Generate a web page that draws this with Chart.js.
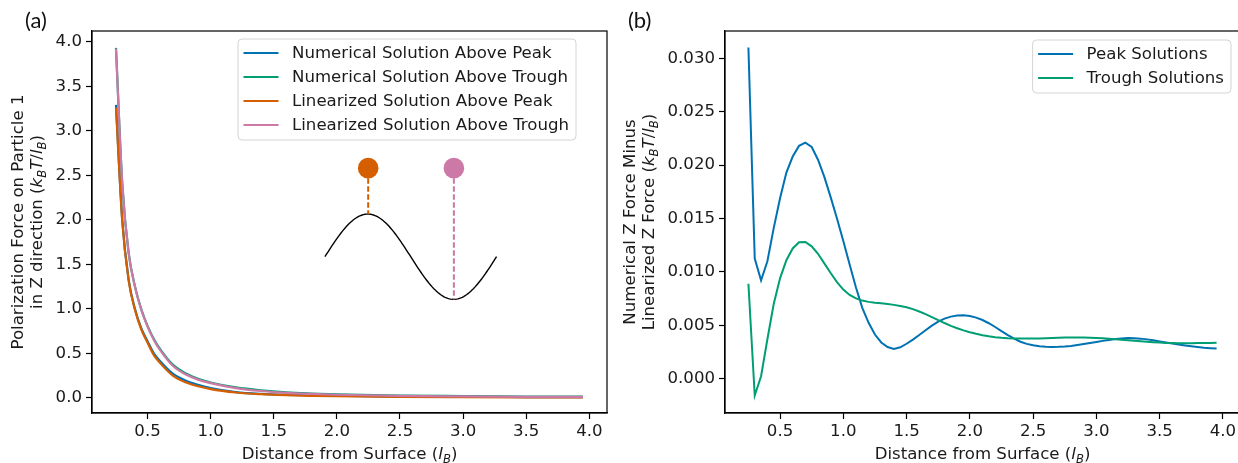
<!DOCTYPE html>
<html>
<head>
<meta charset="utf-8">
<script src="https://cdn.jsdelivr.net/npm/chart.js@4"></script>
<style>
  body { margin: 0; background: #fff; }
  #wrap { position: relative; width: 1238px; height: 463px; overflow: hidden; }
  .panel { position: absolute; top: 0; height: 463px; width: 620px; }
  .tag { position: absolute; font-family: Lato, "Noto Sans", sans-serif; font-size: 22px; color: #111; }
</style>
</head>
<body>
<div id="wrap">
  <div class="panel" style="left:0"><canvas id="chartA"></canvas></div>
  <div class="panel" style="left:620px"><canvas id="chartB"></canvas></div>
  <div class="tag" style="left:25px;top:6px">(a)</div>
  <div class="tag" style="left:628px;top:6px">(b)</div>
</div>
<script>
// colours (Okabe-Ito)
const BLUE = "#0072B2", GREEN = "#009E73", ORANGE = "#D55E00", PINK = "#CC79A7";

// panel (a): force vs distance
const xA = [0.25, 0.30, 0.35, 0.40, 0.45, 0.50, 0.55, 0.60, 0.70, 0.80, 0.90, 1.00, 1.20, 1.40, 1.60, 1.80, 2.00, 2.50, 3.00, 3.50, 3.95];
const peakNum   = [3.29, 1.99, 1.33, 1.00, 0.784, 0.637, 0.499, 0.411, 0.272, 0.196, 0.147, 0.111, 0.065, 0.044, 0.034, 0.029, 0.024, 0.014, 0.0115, 0.0094, 0.0078];
const troughNum = [3.93, 2.40, 1.63, 1.254, 0.997, 0.809, 0.661, 0.547, 0.373, 0.277, 0.215, 0.173, 0.117, 0.084, 0.062, 0.049, 0.039, 0.026, 0.020, 0.015, 0.013];
const peakLin   = [3.26, 1.98, 1.32, 0.99, 0.77, 0.62, 0.48, 0.39, 0.25, 0.175, 0.13, 0.098, 0.060, 0.041, 0.030, 0.023, 0.018, 0.011, 0.008, 0.006, 0.005];
const troughLin = [3.92, 2.40, 1.63, 1.25, 0.99, 0.80, 0.65, 0.535, 0.36, 0.265, 0.205, 0.165, 0.11, 0.077, 0.056, 0.044, 0.035, 0.022, 0.016, 0.012, 0.010];

// panel (b): numerical minus linearized
const xB = [0.25, 0.30, 0.35, 0.40, 0.45, 0.50, 0.55, 0.60, 0.65, 0.70, 0.75, 0.80, 0.85, 0.90, 0.95,
            1.00, 1.05, 1.10, 1.15, 1.20, 1.25, 1.30, 1.35, 1.40, 1.45, 1.50, 1.55, 1.60, 1.65, 1.70,
            1.75, 1.80, 1.85, 1.90, 1.95, 2.00, 2.05, 2.10, 2.15, 2.20, 2.25, 2.30, 2.35, 2.40, 2.45,
            2.50, 2.55, 2.60, 2.65, 2.70, 2.75, 2.80, 2.85, 2.90, 2.95, 3.00, 3.05, 3.10, 3.15, 3.20,
            3.25, 3.30, 3.35, 3.40, 3.45, 3.50, 3.55, 3.60, 3.65, 3.70, 3.75, 3.80, 3.85, 3.90, 3.95];
const peakDiff = [0.03100, 0.01125, 0.00922, 0.01100, 0.01410, 0.01690, 0.01930, 0.02080, 0.02180, 0.02210, 0.02170, 0.02050, 0.01890, 0.01700, 0.01500,
                  0.01290, 0.01070, 0.00855, 0.00664, 0.00524, 0.00414, 0.00340, 0.00297, 0.00280, 0.00295, 0.00328, 0.00367, 0.00410, 0.00455, 0.00498,
                  0.00535, 0.00563, 0.00582, 0.00592, 0.00594, 0.00588, 0.00573, 0.00550, 0.00520, 0.00485, 0.00447, 0.00409, 0.00375, 0.00347, 0.00327,
                  0.00314, 0.00305, 0.00300, 0.00298, 0.00299, 0.00302, 0.00308, 0.00316, 0.00325, 0.00335, 0.00345, 0.00355, 0.00364, 0.00372, 0.00378,
                  0.00381, 0.00380, 0.00376, 0.00369, 0.00360, 0.00350, 0.00340, 0.00330, 0.00321, 0.00312, 0.00304, 0.00297, 0.00291, 0.00287, 0.00284];
const troughDiff = [0.00890, -0.00156, 0.00024, 0.00370, 0.00700, 0.00940, 0.01110, 0.01220, 0.01278, 0.01280, 0.01240, 0.01170, 0.01080, 0.00990, 0.00905,
                    0.00835, 0.00785, 0.00752, 0.00732, 0.00720, 0.00712, 0.00706, 0.00700, 0.00692, 0.00682, 0.00670, 0.00652, 0.00630, 0.00605, 0.00578,
                    0.00550, 0.00522, 0.00496, 0.00473, 0.00453, 0.00436, 0.00421, 0.00408, 0.00398, 0.00390, 0.00384, 0.00380, 0.00378, 0.00377, 0.00377,
                    0.00377, 0.00378, 0.00380, 0.00382, 0.00384, 0.00386, 0.00387, 0.00387, 0.00386, 0.00385, 0.00383, 0.00380, 0.00376, 0.00371, 0.00366,
                    0.00361, 0.00356, 0.00351, 0.00346, 0.00342, 0.00339, 0.00336, 0.00334, 0.00333, 0.00333, 0.00333, 0.00334, 0.00335, 0.00336, 0.00337];

// ticks
const xTicks = [0.5, 1.0, 1.5, 2.0, 2.5, 3.0, 3.5, 4.0];
const yTicksA = [0.0, 0.5, 1.0, 1.5, 2.0, 2.5, 3.0, 3.5, 4.0];
const yTicksB = [0.000, 0.005, 0.010, 0.015, 0.020, 0.025, 0.030];

// inset sketch (in panel a data units)
const waveX = [1.905, 3.265];
const waveY = [1.106, 2.064];
const ballX = [2.248, 2.927];
const ballY = 2.58;

const FONT = '"DejaVu Sans"';
const FS = 16.6;
Chart.defaults.font.family = FONT;
Chart.defaults.font.size = FS;
Chart.defaults.color = "#1a1a1a";

function pairs(xs, ys) {
	return xs.map((x, i) => ({ x: x, y: ys[i] }));
}

// text with italic / subscript parts, e.g. [["("], ["k","is"]]
function drawRich(ctx, parts, cx, cy, rot) {
	ctx.save();
	ctx.translate(cx, cy);
	ctx.rotate(rot);
	ctx.fillStyle = "#1a1a1a";
	ctx.textBaseline = "alphabetic";
	const fontFor = (st) => (st && st.includes("i") ? "italic " : "") + (st && st.includes("s") ? FS * 0.7 : FS) + "px " + FONT;
	let w = 0;
	parts.forEach((p) => { ctx.font = fontFor(p[1]); w += ctx.measureText(p[0]).width; });
	let x = -w / 2;
	parts.forEach((p) => {
		ctx.font = fontFor(p[1]);
		const dy = p[1] && p[1].includes("s") ? FS * 0.22 : 0;
		ctx.fillText(p[0], x, FS * 0.36 + dy);
		x += ctx.measureText(p[0]).width;
	});
	ctx.restore();
}

const unitParts = [["("], ["k", "i"], ["B", "is"], ["T", "i"], ["/"], ["l", "i"], ["B", "is"], [")"]];
const xTitle = [["Distance from Surface ("], ["l", "i"], ["B", "is"], [")"]];

// frame, axis titles, legend box
const decor = {
	id: "decor",
	afterDraw(chart, args, opts) {
		const ctx = chart.ctx;
		const a = chart.chartArea;
		ctx.save();
		ctx.strokeStyle = "#000";
		ctx.lineWidth = 1.2;
		ctx.strokeRect(a.left, a.top, a.right - a.left, a.bottom - a.top);
		ctx.restore();

		drawRich(ctx, xTitle, (a.left + a.right) / 2, 453, 0);
		const cy = (a.top + a.bottom) / 2;
		drawRich(ctx, opts.yTitle1, opts.yX[0], cy, -Math.PI / 2);
		drawRich(ctx, opts.yTitle2.concat(unitParts), opts.yX[1], cy, -Math.PI / 2);

		// legend
		const ds = chart.data.datasets;
		ctx.save();
		ctx.font = FS + "px " + FONT;
		let tw = 0;
		ds.forEach((d) => { tw = Math.max(tw, ctx.measureText(d.label).width); });
		const w = tw + 54 + 7;
		const h = ds.length * 24 + 5;
		const left = opts.legendRight - w;
		const top = opts.legendTop;
		ctx.beginPath();
		ctx.roundRect(left, top, w, h, 4);
		ctx.fillStyle = "rgba(255,255,255,0.8)";
		ctx.fill();
		ctx.strokeStyle = "#d4d4d4";
		ctx.lineWidth = 1;
		ctx.stroke();
		ds.forEach((d, i) => {
			const ry = top + 14 + i * 24;
			ctx.beginPath();
			ctx.moveTo(left + 5.5, ry);
			ctx.lineTo(left + 40.5, ry);
			ctx.strokeStyle = d.borderColor;
			ctx.lineWidth = 2.2;
			ctx.stroke();
			ctx.fillStyle = "#1a1a1a";
			ctx.textBaseline = "middle";
			ctx.fillText(d.label, left + 54, ry + 1);
		});
		ctx.restore();
	}
};

// sine surface with two particles
const inset = {
	id: "inset",
	afterDatasetsDraw(chart) {
		const ctx = chart.ctx;
		const x = chart.scales.x, y = chart.scales.y;
		const x0 = x.getPixelForValue(waveX[0]), x1 = x.getPixelForValue(waveX[1]);
		const yTop = y.getPixelForValue(waveY[1]), yBot = y.getPixelForValue(waveY[0]);
		const mid = (yTop + yBot) / 2, amp = (yBot - yTop) / 2;
		ctx.save();
		ctx.beginPath();
		for (let i = 0; i <= 120; i++) {
			const t = i / 120;
			const px = x0 + t * (x1 - x0);
			const py = mid - amp * Math.sin(2 * Math.PI * t);
			if (i === 0) ctx.moveTo(px, py); else ctx.lineTo(px, py);
		}
		ctx.strokeStyle = "#000";
		ctx.lineWidth = 1.4;
		ctx.stroke();

		const by = y.getPixelForValue(ballY);
		[[ballX[0], yTop, ORANGE], [ballX[1], yBot, PINK]].forEach((b) => {
			const bx = x.getPixelForValue(b[0]);
			ctx.beginPath();
			ctx.setLineDash([5.5, 2.5]);
			ctx.moveTo(bx, by + 10);
			ctx.lineTo(bx, b[1]);
			ctx.strokeStyle = b[2];
			ctx.lineWidth = 2;
			ctx.stroke();
			ctx.setLineDash([]);
			ctx.beginPath();
			ctx.arc(bx, by, 10.3, 0, Math.PI * 2);
			ctx.fillStyle = b[2];
			ctx.fill();
		});
		ctx.restore();
	}
};

function makeScales(xMin, xMax, yMin, yMax, yTicks, digits, yWidth) {
	const grid = { display: true, drawOnChartArea: false, drawTicks: true, tickLength: 6, color: "#000", tickWidth: 1.2 };
	return {
		x: {
			type: "linear", min: xMin, max: xMax,
			afterBuildTicks: (s) => { s.ticks = xTicks.map((v) => ({ value: v })); },
			afterFit: (s) => { s.height = 50; },
			ticks: { callback: (v) => v.toFixed(1), padding: 3, maxRotation: 0, autoSkip: false, color: "#1a1a1a" },
			grid: grid,
			border: { display: true, color: "#000", width: 1.2 }
		},
		y: {
			type: "linear", min: yMin, max: yMax,
			afterBuildTicks: (s) => { s.ticks = yTicks.map((v) => ({ value: v })); },
			afterFit: (s) => { s.width = yWidth; },
			ticks: { callback: (v) => v.toFixed(digits), padding: 4, autoSkip: false, color: "#1a1a1a" },
			grid: grid,
			border: { display: true, color: "#000", width: 1.2 }
		}
	};
}

const lineStyle = { pointRadius: 0, borderWidth: 2.2, fill: false };

new Chart(document.getElementById("chartA"), {
	type: "line",
	data: {
		datasets: [
			Object.assign({ label: "Numerical Solution Above Peak", data: pairs(xA, peakNum), borderColor: BLUE, order: 4 }, lineStyle),
			Object.assign({ label: "Numerical Solution Above Trough", data: pairs(xA, troughNum), borderColor: GREEN, order: 3 }, lineStyle),
			Object.assign({ label: "Linearized Solution Above Peak", data: pairs(xA, peakLin), borderColor: ORANGE, order: 2 }, lineStyle),
			Object.assign({ label: "Linearized Solution Above Trough", data: pairs(xA, troughLin), borderColor: PINK, order: 1 }, lineStyle)
		]
	},
	options: {
		responsive: true,
		maintainAspectRatio: false,
		animation: false,
		events: [],
		cubicInterpolationMode: "monotone",
		layout: { padding: { top: 31, right: 13, left: 0, bottom: 0 } },
		scales: makeScales(0.06, 4.14, -0.17, 4.12, yTicksA, 1, 92),
		plugins: {
			legend: { display: false },
			tooltip: { enabled: false },
			decor: {
				yTitle1: [["Polarization Force on Particle 1"]],
				yTitle2: [["in Z direction "]],
				yX: [17, 36],
				legendRight: 576,
				legendTop: 39
			}
		}
	},
	plugins: [inset, decor]
});

new Chart(document.getElementById("chartB"), {
	type: "line",
	data: {
		datasets: [
			Object.assign({ label: "Peak Solutions", data: pairs(xB, peakDiff), borderColor: BLUE, order: 2 }, lineStyle, { tension: 0, borderWidth: 2 }),
			Object.assign({ label: "Trough Solutions", data: pairs(xB, troughDiff), borderColor: GREEN, order: 1 }, lineStyle, { tension: 0, borderWidth: 2 })
		]
	},
	options: {
		responsive: true,
		maintainAspectRatio: false,
		animation: false,
		events: [],
		layout: { padding: { top: 31, right: 0, left: 0, bottom: 0 } },
		scales: makeScales(0.065, 4.135, -0.0032, 0.03255, yTicksB, 3, 105),
		plugins: {
			legend: { display: false },
			tooltip: { enabled: false },
			decor: {
				yTitle1: [["Numerical Z Force Minus"]],
				yTitle2: [["Linearized Z Force "]],
				yX: [9, 28],
				legendRight: 611,
				legendTop: 40
			}
		}
	},
	plugins: [decor]
});
</script>
</body>
</html>
